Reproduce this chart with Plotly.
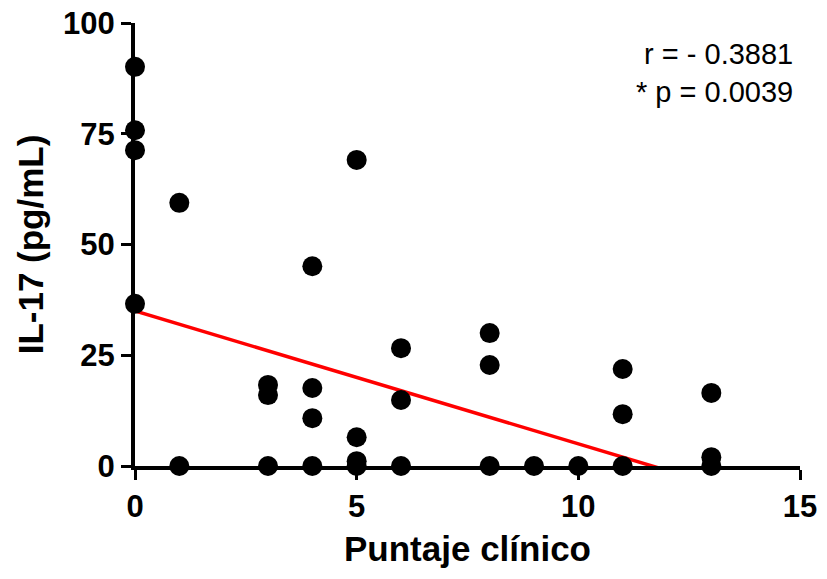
import plotly.graph_objects as go

# Data
x_vals = [0, 0, 0, 0,
          1, 1,
          3, 3, 3,
          4, 4, 4, 4,
          5, 5, 5, 5,
          6, 6, 6,
          8, 8, 8,
          9, 10,
          11, 11, 11,
          13, 13, 13]
y_vals = [90.1, 75.8, 71.3, 36.6,
          59.4, 0,
          18.3, 16.0, 0,
          45.1, 17.6, 10.8, 0,
          69.1, 6.5, 1.1, 0,
          26.6, 14.9, 0,
          30.0, 22.8, 0,
          0, 0,
          21.9, 11.7, 0,
          16.5, 2.0, 0]

fit_intercept = 35.0
fit_slope = -3.0
fit_x = [0, 11.8]
fit_y = [fit_intercept + fit_slope * v for v in fit_x]

x_ticks = [0, 5, 10, 15]
y_ticks = [0, 25, 50, 75, 100]
stats_text = ["r = - 0.3881", "* p = 0.0039"]

FONT = "Liberation Sans, Arial, sans-serif"

fig = go.Figure()
fig.add_trace(go.Scatter(x=fit_x, y=fit_y, mode="lines",
                         line=dict(color="#ff0000", width=3.5),
                         showlegend=False, hoverinfo="skip"))
fig.add_trace(go.Scatter(x=x_vals, y=y_vals, mode="markers",
                         marker=dict(color="black", size=20),
                         cliponaxis=False, showlegend=False))

axis_font = dict(family=FONT, size=31, color="black")
title_font = dict(family=FONT, size=35, color="black")
fig.update_layout(
    width=827, height=579,
    margin=dict(l=135, r=27, t=23, b=113),
    plot_bgcolor="white", paper_bgcolor="white",
    font=dict(family=FONT, color="black"),
    xaxis=dict(range=[0, 15], tickvals=x_ticks, automargin=False,
               ticktext=["<b>%d</b>" % v for v in x_ticks],
               showgrid=False, zeroline=False, showline=True,
               linecolor="black", linewidth=4, ticks="outside",
               ticklen=10, tickwidth=3, tickcolor="black",
               tickfont=axis_font,
               title=dict(text="<b>Puntaje clínico</b>", font=title_font, standoff=14)),
    yaxis=dict(range=[0, 100], tickvals=y_ticks, automargin=False,
               ticktext=["<b>%d</b>" % v for v in y_ticks],
               showgrid=False, zeroline=False, showline=True,
               linecolor="black", linewidth=4, ticks="outside",
               ticklen=10, tickwidth=3, tickcolor="black",
               tickfont=axis_font,
               title=dict(text="<b>IL-17 (pg/mL)</b>", font=title_font, standoff=10)),
)
fig.add_annotation(x=0.993, y=0.97, xref="paper", yref="paper", xanchor="right", yanchor="top",
                   text=stats_text[0] + "<br>" + stats_text[1], showarrow=False, align="right",
                   font=dict(family=FONT, size=29, color="black"))
fig.write_html("out.html")
